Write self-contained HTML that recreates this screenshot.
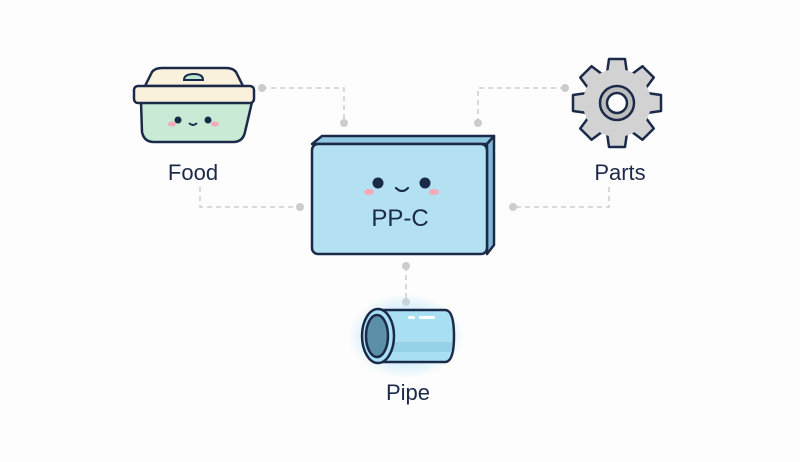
<!DOCTYPE html>
<html><head><style>
body{margin:0;width:800px;height:457px;background:#fdfdfd;overflow:hidden;font-family:"Liberation Sans",sans-serif}
</style></head><body>
<svg width="800" height="457" viewBox="0 0 800 457">
<defs>
<radialGradient id="glow"><stop offset="0.5" stop-color="#bfe6fa" stop-opacity="0.9"/><stop offset="1" stop-color="#bfe6fa" stop-opacity="0"/></radialGradient>
</defs>
<g stroke="#cfcfcf" stroke-width="1.6" stroke-dasharray="5,4" fill="none">
<path d="M262 88H344V123"/>
<path d="M200 187V207H300"/>
<path d="M565 88H478V123"/>
<path d="M609 187V207H513"/>
<path d="M406 266V302"/>
</g>
<g fill="#cccccc">
<circle cx="262" cy="88" r="4"/><circle cx="344" cy="123" r="4"/>
<circle cx="300" cy="207" r="4"/><circle cx="565" cy="88" r="4"/>
<circle cx="478" cy="123" r="4"/><circle cx="513" cy="207" r="4"/>
<circle cx="406" cy="266" r="4"/><circle cx="406" cy="302" r="4"/>
</g>
<!-- main box -->
<path d="M312 144L322 136H494L487 144Z" fill="#8fc8e0" stroke="#1c2a4a" stroke-width="2.5" stroke-linejoin="round"/>
<path d="M487 144L494 136V245L487 254Z" fill="#7fbad6" stroke="#1c2a4a" stroke-width="2.5" stroke-linejoin="round"/>
<rect x="312" y="144" width="175" height="110" rx="6" fill="#b3e1f1" stroke="#1c2a4a" stroke-width="2.5"/>
<circle cx="378" cy="183" r="5.5" fill="#1c2a4a"/><circle cx="425" cy="183" r="5.5" fill="#1c2a4a"/>
<path d="M396 188Q402 194 408 188" stroke="#1c2a4a" stroke-width="2.2" fill="none" stroke-linecap="round"/>
<ellipse cx="369" cy="192" rx="5" ry="3" fill="#f4a9b8"/><ellipse cx="434" cy="192" rx="5" ry="3" fill="#f4a9b8"/>
<text x="400" y="226" font-size="24" fill="#1c2a4a" text-anchor="middle">PP-C</text>
<!-- food -->
<path d="M141 102H252L245 132Q243 142 233 142H154Q144 142 142 132Z" fill="#c9ebd5" stroke="#1c2a4a" stroke-width="2.5"/>
<path d="M145 86L152 72Q155 68 162 68H226Q233 68 236 72L243 86Z" fill="#faf1dc" stroke="#1c2a4a" stroke-width="2.5"/>
<rect x="134" y="86" width="120" height="17" rx="4" fill="#faf1dc" stroke="#1c2a4a" stroke-width="2.5"/>
<path d="M184 80Q184 74 194 74Q203 74 203 80Z" fill="#bfe6d0" stroke="#1c2a4a" stroke-width="2"/>
<circle cx="178" cy="120" r="3.5" fill="#1c2a4a"/><circle cx="208" cy="120" r="3.5" fill="#1c2a4a"/>
<path d="M189 123Q193 127 197 123" stroke="#1c2a4a" stroke-width="1.8" fill="none"/>
<ellipse cx="172" cy="124" rx="4" ry="2.5" fill="#f4a9b8"/><ellipse cx="215" cy="124" rx="4" ry="2.5" fill="#f4a9b8"/>
<text x="193" y="180" font-size="22" fill="#1c2a4a" text-anchor="middle">Food</text>
<!-- gear -->
<g transform="translate(617,103)" fill="#d2d2d2" stroke="#1c2a4a" stroke-width="2.5" stroke-linejoin="round">
<g id="t"><path d="M-10 -30L-8 -44H8L10 -30Z"/></g>
<use href="#t" transform="rotate(45)"/><use href="#t" transform="rotate(90)"/><use href="#t" transform="rotate(135)"/>
<use href="#t" transform="rotate(180)"/><use href="#t" transform="rotate(225)"/><use href="#t" transform="rotate(270)"/><use href="#t" transform="rotate(315)"/>
<circle r="34" stroke="none"/>
<circle r="17" fill="#bdbdbd"/>
<circle r="10" fill="#ffffff"/>
</g>
<text x="620" y="180" font-size="22" fill="#1c2a4a" text-anchor="middle">Parts</text>
<!-- pipe -->
<ellipse cx="406" cy="336" rx="58" ry="42" fill="url(#glow)"/>
<path d="M380 310H445Q454 310 454 336Q454 362 445 362H380Z" fill="#a9dff2" stroke="#1c2a4a" stroke-width="2.5"/>
<path d="M384 347H452" stroke="#8cc9e0" stroke-width="10" opacity="0.6"/>
<rect x="408" y="316" width="7" height="3" rx="1.5" fill="#fff"/><rect x="419" y="316" width="16" height="3" rx="1.5" fill="#fff"/>
<ellipse cx="378" cy="336" rx="16" ry="27" fill="#a9dff2" stroke="#1c2a4a" stroke-width="2.5"/>
<ellipse cx="377" cy="336" rx="11" ry="21" fill="#5c8fa8" stroke="#1c2a4a" stroke-width="2.5"/>
<text x="408" y="400" font-size="22" fill="#1c2a4a" text-anchor="middle">Pipe</text>
</svg>
</body></html>
